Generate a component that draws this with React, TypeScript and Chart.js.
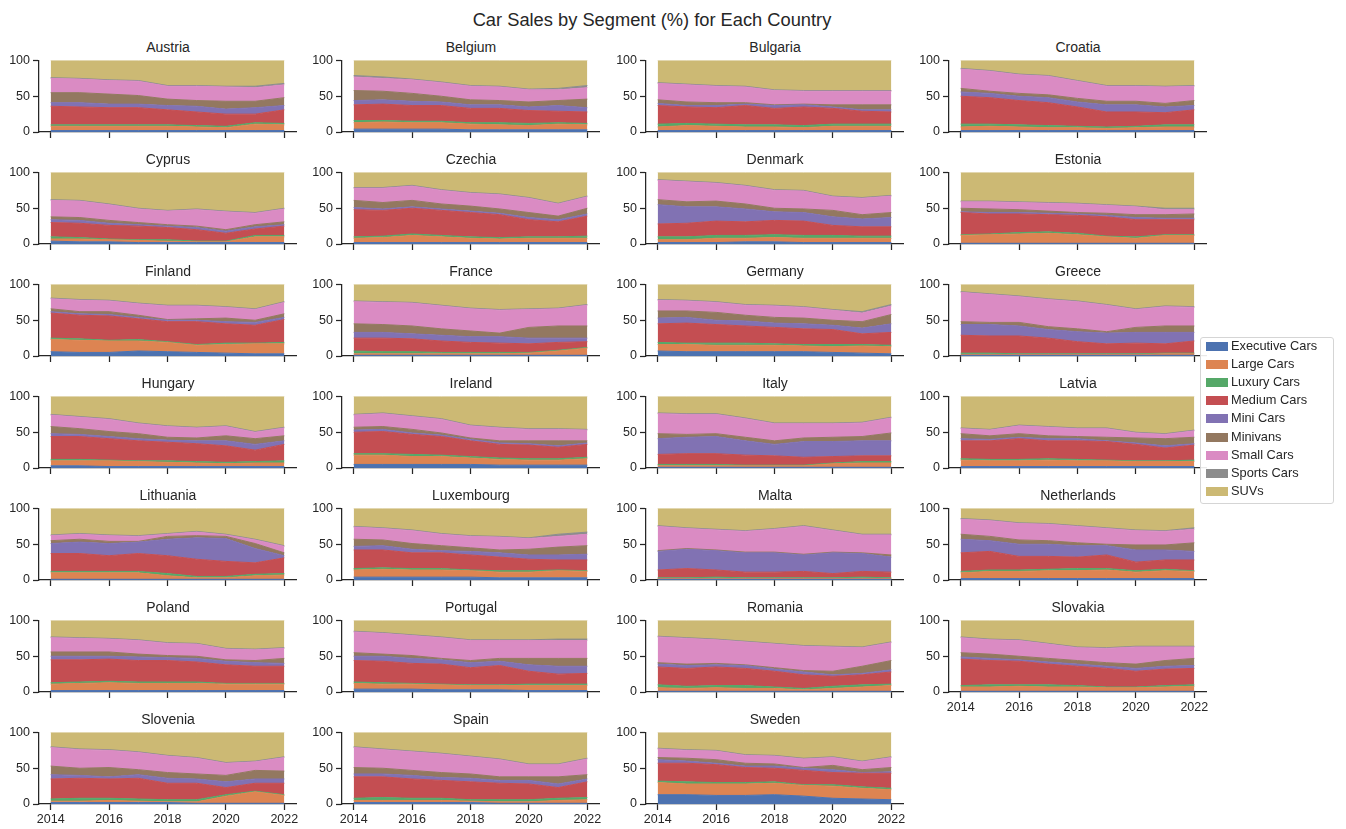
import React, { useEffect, useRef } from 'react';
import { Chart, registerables } from 'chart.js';

Chart.register(...registerables);

const FONT = '"Liberation Sans", Arial, Helvetica, sans-serif';
const INK = '#262626';

const years = [2014, 2015, 2016, 2017, 2018, 2019, 2020, 2021, 2022];
const xTickYears = [2014, 2016, 2018, 2020, 2022];
const yTickValues = [0, 50, 100];

const countries = [
  'Austria', 'Belgium', 'Bulgaria', 'Croatia',
  'Cyprus', 'Czechia', 'Denmark', 'Estonia',
  'Finland', 'France', 'Germany', 'Greece',
  'Hungary', 'Ireland', 'Italy', 'Latvia',
  'Lithuania', 'Luxembourg', 'Malta', 'Netherlands',
  'Poland', 'Portugal', 'Romania', 'Slovakia',
  'Slovenia', 'Spain', 'Sweden',
];

const segments = [
  'Executive Cars', 'Large Cars', 'Luxury Cars', 'Medium Cars', 'Mini Cars',
  'Minivans', 'Small Cars', 'Sports Cars', 'SUVs',
];

const segmentColors = [
  '#4C72B0', '#DD8452', '#55A868', '#C44E52', '#8172B3',
  '#937860', '#DA8BC3', '#8C8C8C', '#CCB974',
];

// One row per country (same order as `countries`), one value per year 2014..2022
const executiveCars = [
  [2, 2, 2, 2, 2, 2, 2, 2, 2],
  [4, 4, 4, 4, 3, 3, 3, 3, 3],
  [2, 2, 2, 2, 2, 2, 2, 2, 2],
  [2, 2, 2, 2, 2, 2, 2, 2, 2],
  [4, 3, 3, 2, 2, 2, 2, 2, 2],
  [2, 2, 2, 2, 2, 2, 2, 2, 2],
  [2, 2, 2, 3, 3, 2, 2, 2, 2],
  [1, 1, 1, 1, 1, 1, 1, 1, 1],
  [6, 5, 5, 7, 6, 5, 4, 3, 3],
  [1, 1, 1, 1, 1, 1, 1, 1, 1],
  [7, 6, 6, 6, 6, 6, 5, 4, 3],
  [1, 1, 1, 1, 1, 1, 1, 1, 1],
  [3, 3, 2, 2, 2, 2, 2, 2, 2],
  [5, 5, 5, 5, 5, 4, 4, 4, 4],
  [1, 1, 1, 1, 1, 1, 1, 1, 1],
  [2, 2, 2, 2, 2, 2, 2, 2, 2],
  [1, 1, 1, 1, 1, 1, 1, 1, 1],
  [4, 4, 4, 4, 4, 3, 3, 3, 3],
  [1, 1, 1, 1, 1, 1, 1, 1, 1],
  [2, 2, 2, 2, 2, 2, 2, 2, 2],
  [2, 2, 2, 2, 2, 2, 2, 2, 2],
  [4, 4, 4, 3, 3, 3, 2, 2, 2],
  [1, 1, 1, 1, 1, 1, 1, 1, 1],
  [1, 1, 1, 1, 1, 1, 1, 1, 1],
  [2, 2, 2, 2, 2, 1, 1, 1, 1],
  [2, 2, 2, 2, 2, 1, 1, 1, 1],
  [13, 13, 12, 12, 13, 11, 8, 7, 6],
];

const largeCars = [
  [6, 6, 6, 6, 6, 5, 4, 9, 8],
  [9, 10, 9, 9, 8, 7, 6, 8, 7],
  [5, 7, 6, 5, 5, 4, 6, 6, 6],
  [5, 6, 5, 4, 4, 3, 4, 5, 5],
  [3, 4, 3, 3, 2, 1, 1, 8, 8],
  [6, 7, 10, 8, 6, 5, 6, 6, 6],
  [4, 4, 6, 5, 6, 6, 6, 6, 6],
  [11, 12, 13, 14, 12, 9, 7, 11, 11],
  [17, 17, 16, 14, 13, 10, 12, 14, 14],
  [2, 2, 2, 2, 2, 2, 3, 6, 10],
  [9, 10, 9, 9, 9, 8, 8, 10, 10],
  [1, 1, 1, 1, 1, 1, 1, 2, 2],
  [7, 7, 8, 7, 6, 5, 4, 5, 5],
  [13, 13, 11, 11, 9, 8, 7, 7, 9],
  [2, 2, 2, 2, 2, 2, 5, 6, 6],
  [9, 8, 8, 9, 8, 8, 7, 7, 7],
  [9, 9, 9, 9, 5, 2, 2, 5, 6],
  [10, 11, 10, 10, 9, 8, 8, 10, 9],
  [1, 1, 1, 1, 1, 1, 1, 1, 1],
  [8, 10, 10, 11, 11, 12, 9, 11, 10],
  [9, 10, 11, 10, 10, 10, 9, 9, 9],
  [8, 7, 7, 7, 6, 6, 7, 7, 7],
  [5, 4, 5, 4, 4, 2, 4, 6, 8],
  [6, 6, 7, 6, 6, 5, 5, 6, 7],
  [2, 2, 3, 2, 1, 2, 10, 16, 11],
  [3, 3, 3, 3, 2, 2, 2, 4, 5],
  [17, 15, 16, 16, 16, 15, 17, 15, 14],
];

const luxuryCars = [
  [2, 2, 2, 2, 2, 2, 2, 2, 2],
  [3, 2, 2, 2, 2, 3, 3, 2, 2],
  [4, 3, 3, 3, 3, 3, 3, 3, 3],
  [4, 3, 3, 3, 2, 2, 2, 3, 3],
  [3, 2, 1, 1, 2, 1, 1, 2, 2],
  [2, 2, 2, 2, 2, 2, 2, 2, 3],
  [4, 4, 4, 4, 4, 4, 4, 3, 3],
  [1, 1, 2, 2, 2, 1, 2, 1, 1],
  [2, 2, 1, 2, 1, 1, 2, 1, 2],
  [4, 3, 3, 2, 2, 2, 1, 1, 1],
  [3, 2, 3, 3, 2, 2, 3, 2, 2],
  [2, 2, 1, 1, 1, 1, 1, 1, 1],
  [2, 2, 1, 1, 2, 2, 2, 2, 3],
  [2, 2, 3, 2, 2, 2, 2, 2, 2],
  [2, 2, 2, 1, 1, 1, 1, 2, 2],
  [2, 2, 2, 2, 2, 1, 1, 1, 2],
  [2, 2, 2, 2, 3, 2, 2, 2, 2],
  [2, 2, 2, 2, 1, 2, 2, 1, 1],
  [1, 1, 2, 1, 1, 1, 1, 2, 1],
  [2, 2, 2, 2, 3, 2, 2, 2, 1],
  [2, 2, 2, 2, 2, 2, 1, 1, 1],
  [2, 2, 1, 1, 1, 1, 2, 2, 2],
  [4, 3, 3, 4, 2, 2, 3, 3, 2],
  [2, 3, 2, 3, 2, 1, 1, 2, 2],
  [3, 4, 3, 3, 3, 3, 2, 1, 1],
  [3, 4, 3, 3, 2, 3, 3, 3, 3],
  [2, 3, 2, 2, 2, 1, 2, 2, 2],
];

const mediumCars = [
  [26, 25, 24, 24, 21, 19, 17, 12, 19],
  [22, 23, 22, 22, 20, 20, 18, 16, 16],
  [26, 23, 23, 27, 23, 26, 22, 18, 17],
  [39, 37, 34, 32, 27, 21, 20, 17, 21],
  [20, 20, 19, 19, 17, 16, 11, 9, 13],
  [38, 36, 36, 35, 34, 32, 24, 21, 28],
  [18, 19, 20, 19, 20, 20, 14, 13, 13],
  [31, 28, 26, 24, 25, 27, 24, 21, 21],
  [35, 33, 34, 29, 28, 32, 27, 25, 32],
  [18, 19, 18, 16, 14, 13, 12, 11, 8],
  [26, 28, 26, 24, 23, 22, 21, 15, 18],
  [25, 24, 25, 22, 17, 14, 15, 13, 17],
  [32, 32, 30, 28, 26, 25, 23, 16, 23],
  [30, 31, 28, 26, 22, 19, 19, 16, 18],
  [14, 15, 15, 14, 13, 11, 9, 8, 8],
  [25, 26, 29, 25, 26, 26, 23, 18, 21],
  [25, 25, 22, 25, 25, 24, 21, 16, 22],
  [26, 25, 22, 22, 21, 19, 16, 14, 15],
  [11, 13, 10, 8, 8, 9, 6, 8, 8],
  [26, 26, 19, 18, 16, 19, 12, 13, 15],
  [32, 31, 31, 30, 30, 28, 26, 24, 24],
  [30, 30, 28, 28, 24, 27, 18, 14, 15],
  [25, 25, 26, 24, 22, 19, 14, 14, 17],
  [37, 34, 33, 29, 27, 26, 22, 23, 23],
  [28, 28, 27, 29, 23, 23, 10, 11, 16],
  [30, 29, 27, 25, 25, 23, 22, 15, 22],
  [25, 26, 25, 21, 19, 20, 17, 19, 21],
];

const miniCars = [
  [5, 6, 5, 5, 6, 8, 7, 9, 6],
  [6, 6, 6, 5, 5, 5, 5, 8, 6],
  [3, 2, 3, 2, 4, 3, 2, 2, 3],
  [6, 6, 6, 7, 7, 10, 10, 8, 6],
  [4, 4, 3, 2, 2, 3, 3, 3, 2],
  [3, 2, 2, 2, 2, 2, 3, 3, 3],
  [27, 23, 20, 18, 12, 12, 12, 11, 13],
  [1, 2, 2, 2, 2, 2, 3, 2, 2],
  [2, 2, 2, 2, 2, 2, 3, 4, 3],
  [8, 8, 7, 8, 8, 9, 8, 6, 5],
  [8, 8, 6, 7, 6, 7, 6, 8, 12],
  [15, 16, 14, 12, 14, 15, 15, 16, 12],
  [4, 3, 3, 3, 3, 4, 7, 8, 5],
  [3, 3, 2, 2, 2, 2, 2, 2, 2],
  [22, 23, 24, 20, 16, 22, 21, 21, 21],
  [3, 2, 2, 3, 3, 1, 2, 3, 2],
  [14, 16, 17, 16, 23, 30, 32, 20, 3],
  [5, 6, 5, 3, 5, 6, 6, 7, 8],
  [26, 27, 27, 27, 27, 23, 29, 25, 21],
  [19, 15, 17, 17, 16, 13, 17, 14, 12],
  [5, 5, 4, 5, 4, 5, 5, 5, 4],
  [6, 7, 7, 6, 7, 6, 9, 11, 10],
  [4, 4, 3, 4, 3, 4, 2, 2, 3],
  [3, 3, 2, 3, 3, 3, 4, 4, 4],
  [6, 4, 3, 5, 7, 6, 8, 6, 6],
  [4, 4, 5, 4, 5, 4, 5, 5, 4],
  [5, 3, 2, 2, 3, 3, 4, 1, 2],
];

const minivans = [
  [14, 14, 14, 12, 9, 8, 11, 9, 11],
  [14, 12, 11, 8, 7, 6, 7, 7, 12],
  [5, 5, 4, 2, 1, 1, 3, 7, 7],
  [5, 3, 4, 4, 5, 5, 5, 5, 7],
  [4, 4, 4, 3, 2, 2, 2, 3, 4],
  [10, 9, 9, 7, 7, 6, 7, 5, 8],
  [7, 7, 8, 7, 5, 5, 9, 6, 7],
  [5, 5, 4, 3, 2, 3, 4, 5, 6],
  [4, 3, 4, 3, 1, 2, 5, 3, 5],
  [12, 11, 11, 9, 8, 5, 15, 17, 17],
  [10, 9, 11, 8, 8, 8, 7, 9, 13],
  [4, 3, 5, 4, 4, 2, 7, 9, 9],
  [10, 8, 7, 7, 4, 4, 7, 8, 7],
  [4, 4, 5, 3, 2, 3, 4, 7, 3],
  [7, 4, 4, 5, 5, 5, 6, 6, 11],
  [7, 5, 5, 4, 3, 5, 7, 10, 9],
  [4, 4, 3, 1, 4, 3, 3, 7, 4],
  [10, 8, 8, 7, 5, 4, 8, 11, 12],
  [1, 1, 1, 1, 1, 1, 1, 1, 3],
  [7, 6, 6, 5, 4, 2, 7, 7, 12],
  [6, 6, 6, 4, 3, 3, 2, 3, 7],
  [5, 3, 4, 2, 3, 4, 9, 11, 11],
  [2, 2, 2, 1, 2, 2, 5, 10, 13],
  [6, 6, 5, 5, 5, 5, 6, 8, 10],
  [12, 10, 13, 7, 8, 7, 9, 12, 11],
  [9, 8, 7, 7, 6, 5, 5, 10, 6],
  [3, 4, 5, 4, 3, 1, 6, 4, 6],
];

const smallCars = [
  [20, 19, 19, 20, 18, 20, 20, 19, 18],
  [19, 18, 19, 19, 19, 19, 17, 15, 16],
  [23, 24, 23, 22, 20, 18, 19, 19, 19],
  [27, 28, 26, 26, 24, 21, 21, 23, 20],
  [23, 23, 22, 19, 19, 23, 25, 16, 18],
  [17, 20, 20, 19, 18, 20, 20, 17, 16],
  [27, 28, 25, 25, 25, 25, 19, 23, 23],
  [9, 10, 10, 11, 12, 11, 11, 7, 6],
  [14, 16, 15, 16, 19, 18, 15, 15, 16],
  [31, 31, 32, 32, 31, 32, 25, 24, 29],
  [15, 14, 14, 14, 16, 15, 14, 12, 12],
  [41, 39, 36, 38, 38, 37, 25, 27, 26],
  [16, 16, 17, 14, 15, 14, 13, 9, 11],
  [17, 18, 18, 19, 17, 18, 16, 16, 15],
  [28, 28, 27, 26, 24, 20, 19, 19, 21],
  [7, 8, 11, 12, 11, 12, 7, 6, 9],
  [7, 7, 8, 7, 3, 5, 2, 5, 9],
  [17, 16, 18, 16, 16, 18, 15, 15, 16],
  [34, 28, 28, 29, 32, 39, 30, 25, 28],
  [21, 22, 23, 23, 23, 22, 20, 19, 19],
  [20, 19, 18, 19, 17, 17, 15, 15, 14],
  [29, 29, 28, 29, 28, 25, 25, 25, 25],
  [36, 36, 33, 32, 33, 34, 34, 26, 25],
  [21, 20, 22, 20, 18, 20, 24, 19, 16],
  [26, 26, 24, 24, 23, 22, 17, 12, 19],
  [28, 26, 26, 26, 24, 24, 17, 17, 22],
  [12, 11, 12, 11, 11, 12, 11, 11, 14],
];

const sportsCars = [
  [1, 1, 1, 1, 1, 1, 1, 2, 2],
  [2, 2, 1, 1, 1, 1, 1, 2, 3],
  [1, 1, 1, 1, 1, 1, 1, 1, 1],
  [1, 1, 1, 1, 1, 1, 1, 1, 1],
  [1, 1, 1, 1, 1, 1, 1, 1, 1],
  [1, 1, 1, 1, 1, 1, 1, 1, 1],
  [1, 1, 1, 1, 1, 1, 1, 1, 1],
  [1, 1, 1, 1, 1, 1, 1, 2, 2],
  [1, 1, 1, 1, 1, 1, 1, 1, 1],
  [1, 1, 1, 1, 1, 1, 1, 1, 1],
  [1, 1, 1, 1, 1, 1, 1, 2, 2],
  [1, 1, 1, 1, 1, 1, 1, 1, 1],
  [1, 1, 1, 1, 1, 1, 1, 1, 1],
  [1, 1, 1, 1, 1, 1, 1, 1, 1],
  [1, 1, 1, 1, 1, 1, 1, 1, 1],
  [1, 1, 1, 1, 1, 1, 1, 1, 1],
  [1, 1, 1, 1, 1, 1, 1, 1, 1],
  [1, 1, 1, 1, 1, 1, 1, 3, 3],
  [1, 1, 1, 1, 1, 1, 1, 1, 1],
  [1, 1, 1, 1, 1, 1, 1, 1, 2],
  [1, 1, 1, 1, 1, 1, 1, 1, 1],
  [1, 1, 1, 1, 1, 1, 1, 2, 2],
  [1, 1, 1, 1, 1, 1, 1, 1, 1],
  [1, 1, 1, 1, 1, 1, 1, 1, 1],
  [1, 1, 1, 1, 1, 1, 1, 1, 1],
  [1, 1, 1, 1, 1, 1, 1, 1, 1],
  [1, 1, 1, 1, 1, 1, 1, 1, 1],
];

const suvs = [
  [24, 25, 27, 28, 35, 35, 36, 36, 32],
  [21, 23, 26, 30, 35, 36, 40, 39, 35],
  [31, 33, 35, 36, 41, 42, 42, 42, 42],
  [11, 14, 19, 21, 28, 35, 35, 36, 35],
  [38, 39, 44, 50, 53, 51, 54, 56, 50],
  [21, 21, 18, 24, 28, 30, 35, 43, 33],
  [10, 12, 14, 18, 24, 25, 33, 35, 32],
  [40, 40, 41, 42, 43, 45, 47, 50, 50],
  [19, 21, 22, 26, 29, 29, 31, 34, 24],
  [23, 24, 25, 29, 33, 35, 34, 33, 28],
  [21, 22, 24, 28, 29, 31, 35, 38, 28],
  [10, 13, 16, 20, 23, 28, 34, 30, 31],
  [25, 28, 31, 37, 41, 43, 41, 49, 43],
  [25, 23, 27, 31, 40, 43, 45, 45, 46],
  [23, 24, 24, 30, 37, 37, 37, 36, 29],
  [44, 46, 40, 42, 44, 44, 50, 52, 47],
  [37, 35, 37, 38, 35, 32, 36, 43, 52],
  [25, 27, 30, 35, 38, 39, 41, 36, 33],
  [24, 27, 29, 31, 28, 24, 30, 36, 36],
  [14, 16, 20, 21, 24, 27, 30, 31, 27],
  [23, 24, 25, 27, 31, 32, 39, 40, 38],
  [15, 17, 20, 23, 27, 27, 27, 26, 26],
  [22, 24, 26, 29, 32, 35, 36, 37, 30],
  [23, 26, 27, 32, 37, 38, 36, 36, 36],
  [20, 23, 24, 27, 32, 35, 42, 40, 34],
  [20, 23, 26, 29, 33, 37, 44, 44, 36],
  [22, 24, 25, 31, 32, 36, 34, 40, 34],
];

const seriesTable = [
  executiveCars, largeCars, luxuryCars, mediumCars, miniCars,
  minivans, smallCars, sportsCars, suvs,
];

// Layout (pixels)
const COL_DATA_LEFT = [51, 354, 658, 961];
const DATA_W = 234;
const ROW_TOP0 = 60;
const ROW_STEP = 112;
const PLOT_H = 72;
const X_MARGIN_YEARS = 0.4; // matplotlib 5% margins
const PX_PER_YEAR = DATA_W / 8;
const MARGIN_PX = X_MARGIN_YEARS * PX_PER_YEAR;
const PAD_L = 50;
const PAD_R = 25;
const PAD_T = 10;
const PAD_B = 28;

function Panel({ idx }: { idx: number }) {
  const ref = useRef<HTMLCanvasElement | null>(null);
  const col = idx % 4;
  const row = Math.floor(idx / 4);
  const showX = row === 6 || (row === 5 && col === 3);
  const axesLeft = COL_DATA_LEFT[col] - MARGIN_PX;
  const axesW = DATA_W + 2 * MARGIN_PX;
  const plotTop = ROW_TOP0 + row * ROW_STEP;
  const cw = Math.round(axesW + PAD_L + PAD_R);
  const ch = PLOT_H + PAD_T + PAD_B;

  useEffect(() => {
    if (!ref.current) return;
    const datasets = segments.map((name, s) => ({
      label: name,
      data: years.map((yr, k) => ({ x: yr, y: seriesTable[s][idx][k] })),
      backgroundColor: segmentColors[s],
      borderColor: segmentColors[s],
      borderWidth: 1,
      pointRadius: 0,
      pointHoverRadius: 0,
      tension: 0,
      fill: s === 0 ? 'origin' : '-1',
    }));
    const tickFont = { family: FONT, size: 12.5 };
    const chart = new Chart(ref.current, {
      type: 'line',
      data: { datasets },
      options: {
        animation: false,
        responsive: false,
        maintainAspectRatio: false,
        events: [],
        layout: { padding: { left: 0, right: PAD_R, top: PAD_T, bottom: 0 } },
        plugins: {
          legend: { display: false },
          tooltip: { enabled: false },
          title: { display: false },
        },
        scales: {
          x: {
            type: 'linear',
            min: years[0] - X_MARGIN_YEARS,
            max: years[years.length - 1] + X_MARGIN_YEARS,
            afterBuildTicks: (scale: any) => {
              scale.ticks = xTickYears.map((v) => ({ value: v }));
            },
            afterFit: (scale: any) => {
              scale.height = PAD_B;
            },
            grid: {
              display: true,
              drawOnChartArea: false,
              drawTicks: true,
              tickLength: 6,
              tickWidth: 1.25,
              tickColor: INK,
            },
            border: { display: true, color: INK, width: 1.25 },
            ticks: {
              autoSkip: false,
              maxRotation: 0,
              minRotation: 0,
              padding: 2,
              color: INK,
              font: tickFont,
              callback: (v: any) => (showX ? String(v) : ''),
            },
          },
          y: {
            type: 'linear',
            stacked: true,
            min: 0,
            max: 100,
            afterBuildTicks: (scale: any) => {
              scale.ticks = yTickValues.map((v) => ({ value: v }));
            },
            afterFit: (scale: any) => {
              scale.width = PAD_L;
            },
            grid: {
              display: true,
              drawOnChartArea: false,
              drawTicks: true,
              tickLength: 6,
              tickWidth: 1.25,
              tickColor: INK,
            },
            border: { display: true, color: INK, width: 1.25 },
            ticks: {
              padding: 3,
              color: INK,
              font: tickFont,
              callback: (v: any) => String(v),
            },
          },
        },
      } as any,
    });
    return () => chart.destroy();
  }, [idx]);

  return (
    <>
      <div
        style={{
          position: 'absolute',
          left: axesLeft,
          top: plotTop - 21,
          width: axesW,
          height: 16,
          lineHeight: '16px',
          textAlign: 'center',
          fontFamily: FONT,
          fontSize: 14,
          color: INK,
        }}
      >
        {countries[idx]}
      </div>
      <canvas
        ref={ref}
        width={cw}
        height={ch}
        style={{
          position: 'absolute',
          left: Math.round(axesLeft - PAD_L),
          top: plotTop - PAD_T,
          width: cw,
          height: ch,
        }}
      />
    </>
  );
}

function Legend() {
  return (
    <div
      style={{
        position: 'absolute',
        left: 1200,
        top: 337,
        width: 132,
        height: 165,
        border: '1px solid #d5d5d5',
        borderRadius: 3,
        background: 'rgba(255,255,255,0.9)',
        zIndex: 5,
      }}
    >
      {segments.map((name, i) => (
        <div key={name}>
          <div
            style={{
              position: 'absolute',
              left: 5,
              top: 4 + i * 18.1,
              width: 22,
              height: 9,
              background: segmentColors[i],
            }}
          />
          <div
            style={{
              position: 'absolute',
              left: 30,
              top: i * 18.1,
              height: 16,
              lineHeight: '16px',
              fontFamily: FONT,
              fontSize: 12.8,
              color: INK,
              whiteSpace: 'nowrap',
            }}
          >
            {name}
          </div>
        </div>
      ))}
    </div>
  );
}

export default function App() {
  return (
    <div
      style={{
        position: 'absolute',
        left: 0,
        top: 0,
        width: 1346,
        height: 829,
        background: '#ffffff',
        overflow: 'hidden',
      }}
    >
      <div
        style={{
          position: 'absolute',
          left: 0,
          top: 9,
          width: 1304,
          height: 22,
          lineHeight: '22px',
          textAlign: 'center',
          fontFamily: FONT,
          fontSize: 18.3,
          color: INK,
        }}
      >
        Car Sales by Segment (%) for Each Country
      </div>
      {countries.map((c, i) => (
        <Panel key={c} idx={i} />
      ))}
      <Legend />
    </div>
  );
}
